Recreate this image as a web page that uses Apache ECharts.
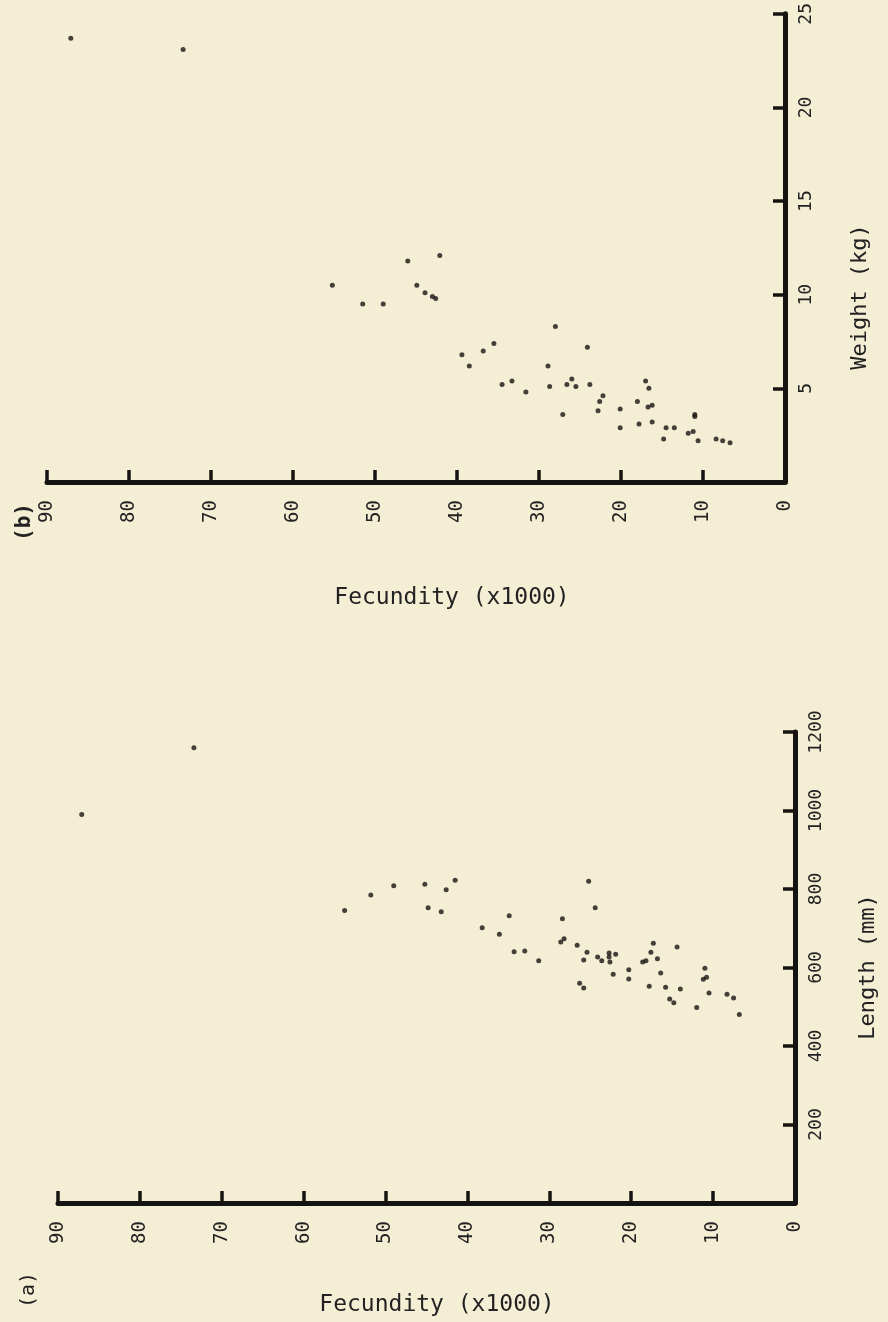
<!DOCTYPE html>
<html>
<head>
<meta charset="utf-8">
<script src="https://cdn.jsdelivr.net/npm/echarts@6/dist/echarts.min.js"></script>
<style>
html,body{margin:0;padding:0;background:#f4eed5;}
#chart{width:888px;height:1322px;}
</style>
</head>
<body>
<div id="chart"></div>
<script>
// ---- data ----
const fecundityTicks = [0,10,20,30,40,50,60,70,80,90];
const lengthTicks = [200,400,600,800,1000,1200];
const weightTicks = [5,10,15,20,25];

// Panel (a): fecundity (x1000) vs length (mm)
const aFecundity = [87.1,73.4,55.0,51.8,49.0,45.2,44.8,42.6,41.5,43.2,
  25.2,24.4,34.9,38.2,28.4,36.1,28.6,28.2,34.3,33.0,31.3,26.6,25.4,25.8,24.1,23.6,22.7,22.7,22.6,21.9,
  17.3,17.6,14.4,16.8,18.6,18.2,22.2,20.3,16.4,20.3,
  26.3,25.8,17.8,15.8,14.8,15.3,11.0,10.8,11.2,10.5,12.0,8.3,7.5,6.8,14.0];
const aLength = [990,1160,745,785,808,812,752,798,822,742,
  820,752,732,701,724,685,665,673,640,642,617,657,639,619,627,617,637,627,614,634,
  662,639,652,622,614,617,583,594,586,571,
  560,548,552,550,510,520,598,575,570,535,498,532,522,480,545];

// Panel (b): fecundity (x1000) vs weight (kg)
const bFecundity = [87.1,73.4,55.2,51.5,49.0,46.0,44.9,43.9,43.0,42.6,42.1,39.4,38.5,36.8,35.5,
  34.5,33.3,31.6,28.7,26.6,27.1,22.8,20.1,22.6,18.0,16.7,16.2,20.1,17.8,16.2,14.5,13.5,14.8,11.8,11.2,11.0,11.0,10.6,8.4,7.6,6.7,
  28.0,28.9,24.1,26.0,25.5,23.8,22.2,17.0,16.6];
const bWeight = [23.7,23.1,10.5,9.5,9.5,11.8,10.5,10.1,9.9,9.8,12.1,6.8,6.2,7.0,7.4,
  5.2,5.4,4.8,5.1,5.2,3.6,3.8,3.9,4.3,4.3,4.0,4.1,2.9,3.1,3.2,2.9,2.9,2.3,2.6,2.7,3.6,3.5,2.2,2.3,2.2,2.1,
  8.3,6.2,7.2,5.5,5.1,5.2,4.6,5.4,5.0];

const pairs = (xs, ys) => xs.map((v, i) => [v, ys[i]]);

const INK = '#161412';
const TXT = '#222';
const FONT = '"DejaVu Sans Mono", "Liberation Mono", monospace';
const plain = v => String(v);

function fecAxis(gridIndex) {
  return {
    type: 'value', gridIndex, min: 0, max: 90, interval: 10, inverse: true,
    axisLine: { show: true, lineStyle: { color: INK, width: 5 } },
    axisTick: { show: true, inside: true, length: 12, lineStyle: { color: INK, width: 3.5 }, customValues: fecundityTicks },
    axisLabel: { rotate: 90, margin: 18, color: TXT, fontFamily: FONT, fontSize: 19, customValues: fecundityTicks, formatter: plain },
    splitLine: { show: false }
  };
}

function sideAxis(gridIndex, max, interval, ticks) {
  return {
    type: 'value', gridIndex, position: 'right', min: 0, max, interval,
    axisLine: { show: true, lineStyle: { color: INK, width: 5 } },
    axisTick: { show: true, inside: true, length: 12, lineStyle: { color: INK, width: 3.5 }, customValues: ticks },
    axisLabel: { rotate: 90, margin: 12, color: TXT, fontFamily: FONT, fontSize: 18, customValues: ticks, formatter: plain },
    splitLine: { show: false }
  };
}

const option = {
  backgroundColor: '#f4eed5',
  animation: false,
  grid: [
    { left: 47, top: 10, width: 738, height: 472 },
    { left: 58, top: 732, width: 737, height: 471 }
  ],
  xAxis: [fecAxis(0), fecAxis(1)],
  yAxis: [sideAxis(0, 25, 5, weightTicks), sideAxis(1, 1200, 200, lengthTicks)],
  series: [
    { type: 'scatter', xAxisIndex: 0, yAxisIndex: 0, data: pairs(bFecundity, bWeight),
      symbolSize: 5, itemStyle: { color: INK } },
    { type: 'scatter', xAxisIndex: 1, yAxisIndex: 1, data: pairs(aFecundity, aLength),
      symbolSize: 5, itemStyle: { color: INK } }
  ],
  graphic: [
    { type: 'text', x: 437, y: 1305, style: { text: 'Fecundity (x1000)', font: '23px ' + FONT, fill: TXT, align: 'center', verticalAlign: 'middle' } },
    { type: 'text', x: 452, y: 598, style: { text: 'Fecundity (x1000)', font: '23px ' + FONT, fill: TXT, align: 'center', verticalAlign: 'middle' } },
    { type: 'text', x: 29, y: 1290, rotation: Math.PI / 2, style: { text: '(a)', font: '20px ' + FONT, fill: TXT, align: 'center', verticalAlign: 'middle' } },
    { type: 'text', x: 25, y: 522, rotation: Math.PI / 2, style: { text: '(b)', font: 'bold 21px ' + FONT, fill: TXT, align: 'center', verticalAlign: 'middle' } },
    { type: 'text', x: 868, y: 967, rotation: Math.PI / 2, style: { text: 'Length (mm)', font: '22px ' + FONT, fill: TXT, align: 'center', verticalAlign: 'middle' } },
    { type: 'text', x: 860, y: 297, rotation: Math.PI / 2, style: { text: 'Weight (kg)', font: '22px ' + FONT, fill: TXT, align: 'center', verticalAlign: 'middle' } }
  ]
};

const chart = echarts.init(document.getElementById('chart'), null, { renderer: 'canvas', width: 888, height: 1322 });
chart.setOption(option);
</script>
</body>
</html>
